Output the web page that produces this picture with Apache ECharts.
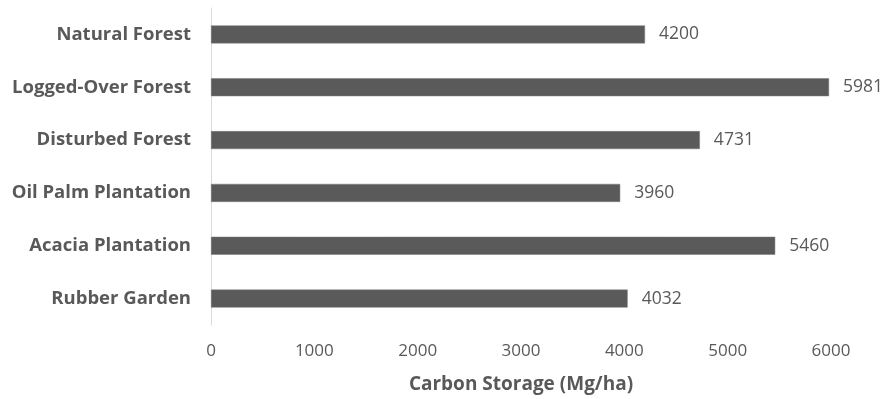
<!DOCTYPE html>
<html><head><meta charset="utf-8">
<script src="https://cdn.jsdelivr.net/npm/echarts@6/dist/echarts.min.js"></script>
<style>html,body{margin:0;padding:0;background:#fff}#c{width:888px;height:399px}</style>
</head><body><div id="c"></div>
<script>
const categories = ["Natural Forest","Logged-Over Forest","Disturbed Forest","Oil Palm Plantation","Acacia Plantation","Rubber Garden"];
const values = [4200,5981,4731,3960,5460,4032];
const xTicks = [0,1000,2000,3000,4000,5000,6000];
const axisTitle = "Carbon Storage (Mg/ha)";
const chart = echarts.init(document.getElementById('c'));
chart.setOption({
  animation:false,
  grid:{left:211,right:57,top:8,bottom:74,containLabel:false},
  xAxis:{type:'value',min:xTicks[0],max:xTicks[xTicks.length-1],interval:1000,
    name:axisTitle,nameLocation:'middle',nameGap:50,
    nameTextStyle:{fontFamily:'Open Sans',fontWeight:'bold',fontSize:19,color:'#595959'},
    axisLine:{show:false},axisTick:{show:false},splitLine:{show:false},
    axisLabel:{fontFamily:'Open Sans',fontSize:17,color:'#595959',margin:18,formatter:v=>String(v)}},
  yAxis:{type:'category',data:categories,inverse:true,
    axisLine:{show:true,lineStyle:{color:'#d9d9d9',width:1}},axisTick:{show:false},
    axisLabel:{fontFamily:'Open Sans',fontWeight:'bold',fontSize:18.5,color:'#595959',margin:20}},
  series:[{type:'bar',data:values,barWidth:'34%',
    itemStyle:{color:'#5a5a5a',borderColor:'#7a7a7a',borderWidth:0.5},
    label:{show:true,position:'right',distance:14,fontFamily:'Open Sans',fontSize:17.5,color:'#595959'}}]
});
</script></body></html>
